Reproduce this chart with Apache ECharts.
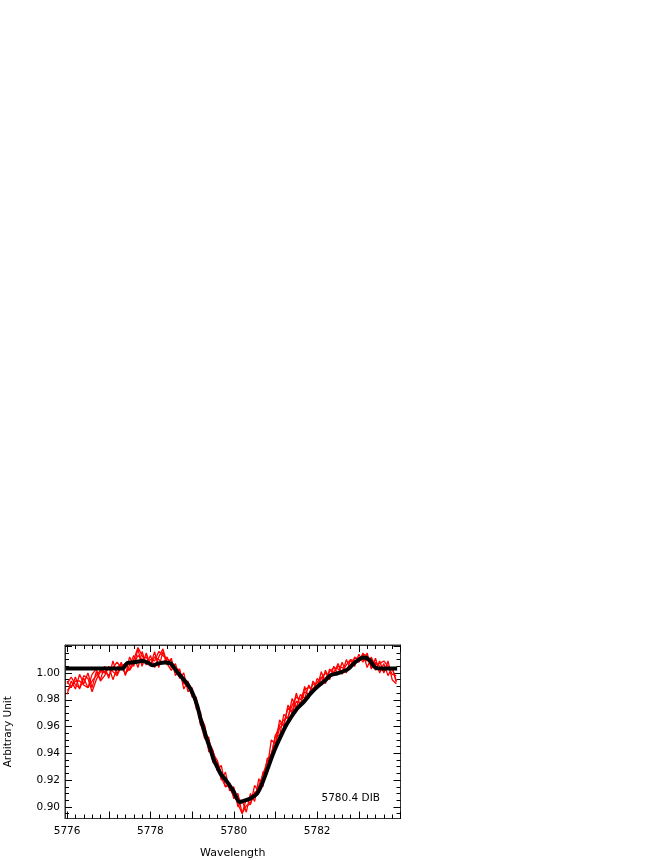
<!DOCTYPE html>
<html>
<head>
<meta charset="utf-8">
<script src="https://cdn.jsdelivr.net/npm/echarts@6/dist/echarts.min.js"></script>
<style>html,body{margin:0;padding:0;background:#fff}#c{width:664px;height:860px}</style>
</head>
<body>
<div id="c"></div>
<script>
// ---- data ----
const wl = [5776.0,5776.1,5776.2,5776.3,5776.4,5776.5,5776.6,5776.7,5776.8,5776.9,
5777.0,5777.1,5777.2,5777.3,5777.4,5777.5,5777.6,5777.7,5777.8,5777.9,
5778.0,5778.1,5778.2,5778.3,5778.4,5778.5,5778.6,5778.7,5778.8,5778.9,
5779.0,5779.1,5779.2,5779.3,5779.4,5779.5,5779.6,5779.7,5779.8,5779.9,
5780.0,5780.1,5780.2,5780.3,5780.4,5780.5,5780.6,5780.7,5780.8,5780.9,
5781.0,5781.1,5781.2,5781.3,5781.4,5781.5,5781.6,5781.7,5781.8,5781.9,
5782.0,5782.1,5782.2,5782.3,5782.4,5782.5,5782.6,5782.7,5782.8,5782.9,
5783.0,5783.1,5783.2,5783.3,5783.4,5783.5,5783.6,5783.7,5783.8,5783.9];

const obsA = [0.984,0.994,0.988,0.999,0.992,1.000,0.989,1.001,0.995,1.005,
0.996,1.009,0.999,1.008,0.998,1.012,1.005,1.018,1.005,1.015,
1.005,1.016,1.004,1.016,1.006,1.011,0.998,1.003,0.988,0.994,
0.982,0.982,0.961,0.960,0.941,0.942,0.927,0.931,0.915,0.918,
0.906,0.910,0.895,0.906,0.902,0.916,0.911,0.926,0.928,0.950,
0.947,0.965,0.960,0.976,0.971,0.985,0.975,0.990,0.981,0.994,
0.989,1.001,0.992,1.003,0.999,1.007,0.999,1.010,1.003,1.012,
1.008,1.015,1.004,1.012,1.002,1.009,1.000,1.009,0.995,0.992];

const obsB = [0.994,0.989,0.997,0.988,0.996,0.989,0.999,1.003,0.994,0.998,
1.005,0.995,1.004,1.007,0.999,1.006,1.013,1.004,1.016,1.006,
1.013,1.004,1.012,1.018,1.007,1.002,1.007,0.996,1.000,0.986,
0.989,0.973,0.971,0.952,0.952,0.933,0.934,0.920,0.926,0.912,
0.915,0.900,0.905,0.896,0.910,0.904,0.921,0.915,0.936,0.938,
0.954,0.953,0.969,0.966,0.981,0.974,0.984,0.981,0.991,0.985,
0.996,0.992,1.002,0.995,1.005,0.999,1.008,1.000,1.010,1.005,
1.014,1.008,1.015,1.003,1.011,1.000,1.007,0.998,1.004,0.993];

const obsC = [0.987,0.990,0.994,0.994,0.991,0.989,0.994,0.998,1.002,1.001,
0.998,1.004,1.008,1.004,1.000,1.003,1.010,1.019,1.013,1.008,
1.010,1.009,1.016,1.013,1.010,1.009,1.003,0.997,0.996,0.993,
0.987,0.979,0.963,0.951,0.949,0.942,0.931,0.922,0.915,0.916,
0.913,0.902,0.895,0.901,0.902,0.911,0.912,0.918,0.925,0.939,
0.953,0.961,0.965,0.967,0.976,0.982,0.980,0.988,0.989,0.988,
0.993,0.997,0.996,1.001,1.004,1.003,1.001,1.006,1.010,1.009,
1.009,1.014,1.013,1.004,1.008,1.005,1.001,1.004,1.004,0.994];

const obsD = [0.992,0.997,0.991,0.989,0.998,0.996,0.986,0.995,1.001,1.000,
1.004,1.001,0.998,1.005,1.007,1.002,1.007,1.013,1.010,1.012,
1.006,1.012,1.010,1.007,1.012,1.004,1.004,1.002,0.992,0.991,
0.983,0.980,0.968,0.961,0.945,0.940,0.935,0.925,0.922,0.914,
0.908,0.907,0.903,0.906,0.907,0.907,0.916,0.924,0.934,0.940,
0.947,0.959,0.962,0.974,0.970,0.979,0.977,0.986,0.984,0.992,
0.990,0.996,1.000,0.997,1.001,1.005,1.004,1.002,1.006,1.011,
1.011,1.010,1.009,1.011,1.006,1.007,1.009,1.005,0.999,0.998];

const modelWl = [5775.97,5777.32,5777.45,5777.6,5777.8,5777.95,5778.05,5778.2,5778.35,5778.48,
5778.64,5778.88,5779.0,5779.12,5779.2,5779.28,5779.36,5779.44,5779.52,5779.6,
5779.68,5779.84,5780.0,5780.14,5780.24,5780.4,5780.56,5780.68,5780.8,5780.96,
5781.12,5781.28,5781.52,5781.68,5781.84,5782.0,5782.2,5782.32,5782.48,5782.72,
5782.92,5783.12,5783.24,5783.4,5783.52,5783.92];
const modelVal = [1.0033,1.0033,1.0075,1.0080,1.0090,1.0075,1.0057,1.0072,1.0078,1.0072,
1.0008,0.9920,0.9858,0.9759,0.9660,0.9580,0.9500,0.9430,0.9350,0.9299,
0.9249,0.9187,0.9112,0.9037,0.9045,0.9063,0.9100,0.9175,0.9274,0.9410,
0.9522,0.9622,0.9734,0.9784,0.9846,0.9896,0.9946,0.9983,0.9996,1.0025,
1.0082,1.0115,1.0100,1.0040,1.0033,1.0033];

const xMajorTicks = [5776,5777,5778,5779,5780,5781,5782,5783,5784];
const xLabelTicks = [5776,5778,5780,5782];
const xMinorTicks = [5776.0,5776.2,5776.4,5776.6,5776.8,5777.0,5777.2,5777.4,5777.6,5777.8,
5778.0,5778.2,5778.4,5778.6,5778.8,5779.0,5779.2,5779.4,5779.6,5779.8,
5780.0,5780.2,5780.4,5780.6,5780.8,5781.0,5781.2,5781.4,5781.6,5781.8,
5782.0,5782.2,5782.4,5782.6,5782.8,5783.0,5783.2,5783.4,5783.6,5783.8,5784.0];
const yMajorTicks = [0.90,0.92,0.94,0.96,0.98,1.00,1.02];
const yLabelTicks = [0.90,0.92,0.94,0.96,0.98,1.00];
const yMinorTicks = [0.895,0.900,0.905,0.910,0.915,0.920,0.925,0.930,0.935,0.940,0.945,0.950,
0.955,0.960,0.965,0.970,0.975,0.980,0.985,0.990,0.995,1.000,1.005,1.010,1.015,1.020];

const annotation = '5780.4 DIB';

// ---- chart ----
const X_MIN = 5775.95, X_MAX = 5784.0, Y_MIN = 0.8913, Y_MAX = 1.0209;
const FONT = 'DejaVu Sans';
const pair = (xs, ys) => xs.map((x, i) => [x, ys[i]]);

function xAx(pos, major, withLabels) {
  return {
    type: 'value', min: X_MIN, max: X_MAX, position: pos,
    axisLine: { show: major, onZero: false, lineStyle: { color: '#333', width: 1 } },
    axisTick: { show: true, inside: true, length: major ? 7 : 4,
      customValues: major ? xMajorTicks : xMinorTicks, lineStyle: { color: '#000', width: 1 } },
    axisLabel: { show: withLabels, customValues: xLabelTicks, formatter: v => String(Math.round(v)),
      fontFamily: FONT, fontSize: 10.5, color: '#000', margin: 7 },
    splitLine: { show: false }, minorTick: { show: false },
    name: withLabels ? 'Wavelength' : '', nameLocation: 'middle', nameGap: 29,
    nameTextStyle: { fontFamily: FONT, fontSize: 11, color: '#000' }
  };
}
function yAx(pos, major, withLabels) {
  return {
    type: 'value', min: Y_MIN, max: Y_MAX, position: pos,
    axisLine: { show: major, onZero: false, lineStyle: { color: '#333', width: 1 } },
    axisTick: { show: true, inside: true, length: major ? 7 : 4,
      customValues: major ? yMajorTicks : yMinorTicks, lineStyle: { color: '#000', width: 1 } },
    axisLabel: { show: withLabels, customValues: yLabelTicks, formatter: v => v.toFixed(2),
      fontFamily: FONT, fontSize: 10.5, color: '#000', margin: 5 },
    splitLine: { show: false }, minorTick: { show: false },
    name: withLabels ? 'Arbitrary Unit' : '', nameLocation: 'middle', nameGap: 51, nameRotate: 90,
    nameTextStyle: { fontFamily: FONT, fontSize: 10.5, color: '#000' }
  };
}

const red = (d) => ({ type: 'line', data: pair(wl, d), symbol: 'none', smooth: false,
  lineStyle: { color: '#ff0000', width: 1.3 }, z: 2, xAxisIndex: 0, yAxisIndex: 0, silent: true });

const chart = echarts.init(document.getElementById('c'), null, { renderer: 'canvas' });
chart.setOption({
  animation: false,
  backgroundColor: '#fff',
  grid: { left: 65, top: 645, width: 335.5, height: 173.5, show: true, borderColor: '#333', borderWidth: 1,
          containLabel: false, outerBoundsMode: 'none' },
  xAxis: [xAx('bottom', true, true), xAx('bottom', false, false), xAx('top', true, false), xAx('top', false, false)],
  yAxis: [yAx('left', true, true), yAx('left', false, false), yAx('right', true, false), yAx('right', false, false)],
  graphic: [{ type: 'text', left: 321.5, top: 792.5, style: { text: annotation, font: '10.5px "DejaVu Sans"', fill: '#000' } }],
  series: [
    red(obsA), red(obsB), red(obsC), red(obsD),
    { type: 'line', data: pair(modelWl, modelVal), symbol: 'none', smooth: 0.3,
      lineStyle: { color: '#000', width: 4 }, z: 5, xAxisIndex: 0, yAxisIndex: 0, silent: true }
  ]
});
</script>
</body>
</html>
